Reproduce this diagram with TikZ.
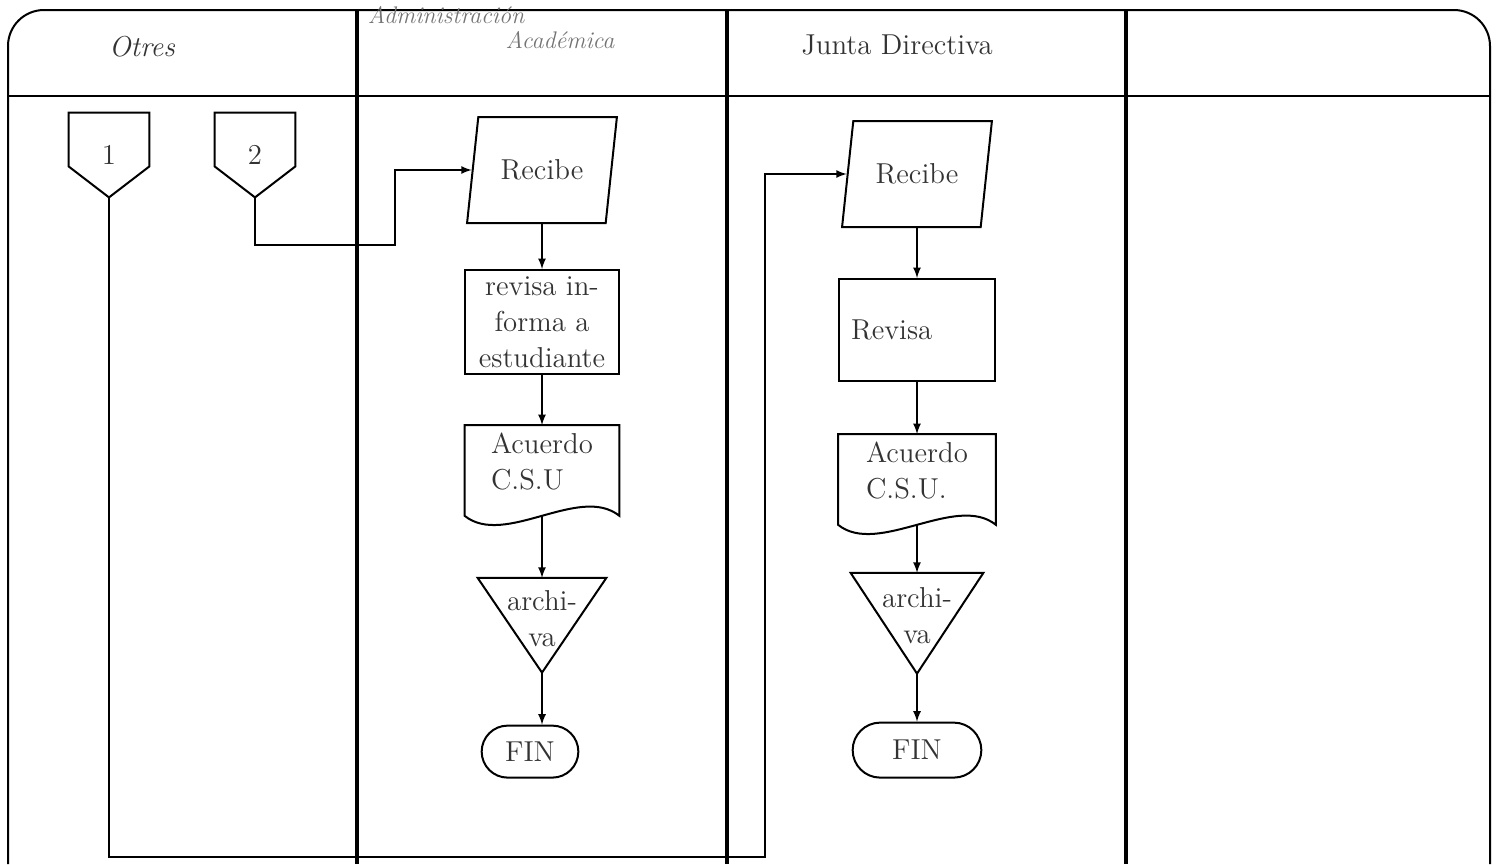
\documentclass[tikz,border=0pt]{standalone}
\usepackage{fontspec}
\usepackage{tikz}
\usetikzlibrary{shapes.geometric, shapes.misc, positioning}

\begin{document}
\begin{tikzpicture}[x=0.5pt, y=-0.5pt, >=latex,
    every node/.style={font=\Large, text=black!80},
    lane/.style={line width=1.6pt},
    borde/.style={line width=1pt},
    flecha/.style={line width=0.8pt, ->},
    recibe/.style={borde, draw, trapezium, trapezium left angle=76, trapezium right angle=104,
        trapezium stretches=true, minimum width=75pt, minimum height=53pt},
    proceso/.style={borde, draw, rectangle, minimum width=77pt, minimum height=52pt, align=center, inner sep=2pt},
    docu/.style={rectangle, minimum width=77pt, minimum height=36pt, align=left},
    archivo/.style={rectangle, minimum width=64pt, minimum height=40pt, align=center, inner sep=0pt},
    fin/.style={borde, draw, rounded rectangle, minimum height=26pt},
    conector/.style={rectangle, minimum width=40pt, minimum height=42pt}]

    \useasboundingbox (0,0) rectangle (1496,864);

    % marco y carriles
    \draw[borde, rounded corners=18pt] (8,864) -- (8,10) -- (1490,10) -- (1490,864);
    \draw[borde] (8,96) -- (1490,96);
    \foreach \x in {357,727,1126}
        \draw[lane] (\x,10) -- (\x,864);

    \node[font=\Large\itshape] (otros) at (142,47) {Otres};
    \node[font=\large\itshape, text=black!55] (adm) at (446,15) {Administración};
    \node[font=\large\itshape, text=black!55] (acad) at (560,40) {Académica};
    \node (junta) at (897,45) {Junta Directiva};

    % conectores
    \node[conector] (c1) at (109,155) {1};
    \node[conector] (c2) at (255,155) {2};
    \foreach \c in {c1,c2}
        \draw[borde] (\c.north west) -- (\c.north east) -- ([yshift=15.5pt]\c.south east)
            -- (\c.south) -- ([yshift=15.5pt]\c.south west) -- cycle;

    % Administracion Academica
    \node[recibe] (rec1) at (542,170) {Recibe};
    \node[proceso, below=22.5pt of rec1] (pro1) {revisa in-\\forma a\\estudiante};
    \node[docu, below=25pt of pro1] (doc1) {Acuerdo\\C.S.U};
    \node[archivo, below=40pt of doc1] (arc1) {archi-\\va};
    \node[fin, minimum width=55pt, below=33pt of arc1, xshift=-6pt] (fin1) {FIN};

    % Junta Directiva
    \node[recibe] (rec2) at (917,174) {Recibe};
    \node[proceso, minimum width=78pt, minimum height=51pt, text width=66pt, align=left,
        inner xsep=6pt, below=25pt of rec2] (pro2) {Revisa};
    \node[docu, minimum width=78.5pt, below=26pt of pro2] (doc2) {Acuerdo\\C.S.U.};
    \node[archivo, minimum width=66pt, minimum height=42pt, below=33pt of doc2] (arc2) {archi-\\va};
    \node[fin, minimum width=71pt, minimum height=27.5pt, below=32pt of arc2] (fin2) {FIN};

    \foreach \d in {doc1,doc2}
        \draw[borde] (\d.north west) -- (\d.north east) -- ([yshift=-9pt]\d.south east)
            .. controls +(-40,-32) and +(40,32) .. ([yshift=-9pt]\d.south west) -- cycle;
    \draw[borde] (arc1.north west) -- (arc1.north east) -- ([yshift=-7pt]arc1.south) -- cycle;
    \draw[borde] (arc2.north west) -- (arc2.north east) -- ([yshift=-8pt]arc2.south) -- cycle;

    \draw[flecha] (rec1.south) -- (pro1.north);
    \draw[flecha] (pro1.south) -- (doc1.north);
    \draw[flecha] ([yshift=-9pt]doc1.south) -- (arc1.north);
    \draw[flecha] ([yshift=-7pt]arc1.south) -- (arc1.south |- fin1.north);

    \draw[flecha] (rec2.south) -- (pro2.north);
    \draw[flecha] (pro2.south) -- (doc2.north);
    \draw[flecha] ([yshift=-9pt]doc2.south) -- (arc2.north);
    \draw[flecha] ([yshift=-8pt]arc2.south) -- (fin2.north);

    \coordinate (q2) at (395,245);
    \coordinate (q1) at (765,857);
    \draw[flecha] (c2.south) |- (q2) |- (rec1.west);
    \draw[flecha] (c1.south) |- (q1) |- (rec2.west);
\end{tikzpicture}
\end{document}
